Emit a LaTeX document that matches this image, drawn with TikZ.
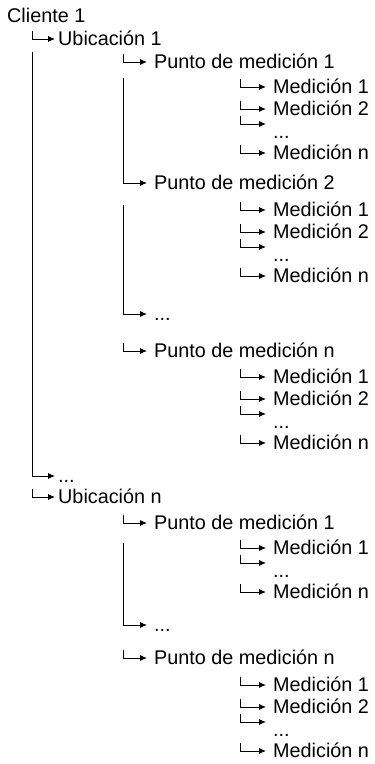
\documentclass[tikz,border=0pt]{standalone}
\usepackage{fontspec}
\setmainfont{Liberation Sans}
\usetikzlibrary{arrows.meta}
\begin{document}
\begin{tikzpicture}[
  x=1bp, y=1bp,
  entry/.style={anchor=west, inner ysep=0pt, text height=13bp, text depth=0pt,
    font=\fontsize{19.8bp}{22bp}\selectfont},
  ubic/.style={entry, inner xsep=3bp},
  punto/.style={entry, inner xsep=7bp},
  medic/.style={entry, inner xsep=7bp},
  sunk/.style={text height=28bp},
  hook/.style={-{Latex[length=7bp,width=6bp]}, line width=0.9bp},
]
\useasboundingbox (0,0) rectangle (374,-764);

% root
\node[entry, inner xsep=0pt] (cli) at (7,-16) {Cliente 1};

% first level: locations
\node[ubic] (ub1)    at (55,-39)  {Ubicación 1};
\node[ubic] (ubdots) at (55,-476) {...};
\node[ubic] (ubn)    at (55,-497) {Ubicación n};

% second level: measuring points
\node[punto] (p11)    at (147,-62)  {Punto de medición 1};
\node[punto] (p12)    at (147,-183) {Punto de medición 2};
\node[punto] (pdots1) at (147,-314) {...};
\node[punto] (p1n)    at (147,-351) {Punto de medición n};
\node[punto] (p21)    at (147,-523) {Punto de medición 1};
\node[punto] (pdots2) at (147,-625) {...};
\node[punto] (p2n)    at (147,-658) {Punto de medición n};

% third level: measurements
\node[medic]       (ma1) at (266,-87)  {Medición 1};
\node[medic]       (ma2) at (266,-109) {Medición 2};
\node[medic, sunk] (ma3) at (266,-124) {...};
\node[medic]       (ma4) at (266,-153) {Medición n};
\node[medic]       (mb1) at (266,-210) {Medición 1};
\node[medic]       (mb2) at (266,-232) {Medición 2};
\node[medic, sunk] (mb3) at (266,-247) {...};
\node[medic]       (mb4) at (266,-276) {Medición n};
\node[medic]       (mc1) at (266,-377) {Medición 1};
\node[medic]       (mc2) at (266,-399) {Medición 2};
\node[medic, sunk] (mc3) at (266,-414) {...};
\node[medic]       (mc4) at (266,-443) {Medición n};
\node[medic]       (md1) at (266,-548) {Medición 1};
\node[medic, sunk] (md3) at (266,-563) {...};
\node[medic]       (md4) at (266,-592) {Medición n};
\node[medic]       (me1) at (266,-685) {Medición 1};
\node[medic]       (me2) at (266,-707) {Medición 2};
\node[medic, sunk] (me3) at (266,-722) {...};
\node[medic]       (me4) at (266,-751) {Medición n};

% tops of the long stems
\coordinate (ubtop) at (32,-52);
\coordinate (patop) at (123,-78);
\coordinate (pbtop) at (123,-205);
\coordinate (pctop) at (123,-543);

% long stems
\draw[hook] (ubtop) |- (ubdots.west);
\draw[hook] (patop) |- (p12.west);
\draw[hook] (pbtop) |- (pdots1.west);
\draw[hook] (pctop) |- (pdots2.west);

% short hooks
\foreach \n in {ub1,ubn}
  \draw[hook] ([shift={(-23,8)}]\n.west) |- (\n.west);
\foreach \n in {p11,p1n,p21,p2n}
  \draw[hook] ([shift={(-24,8)}]\n.west) |- (\n.west);
\foreach \n in {ma1,ma2,ma3,ma4,mb1,mb2,mb3,mb4,mc1,mc2,mc3,mc4,md1,md3,md4,me1,me2,me3,me4}
  \draw[hook] ([shift={(-26,8)}]\n.west) |- (\n.west);
\end{tikzpicture}
\end{document}
